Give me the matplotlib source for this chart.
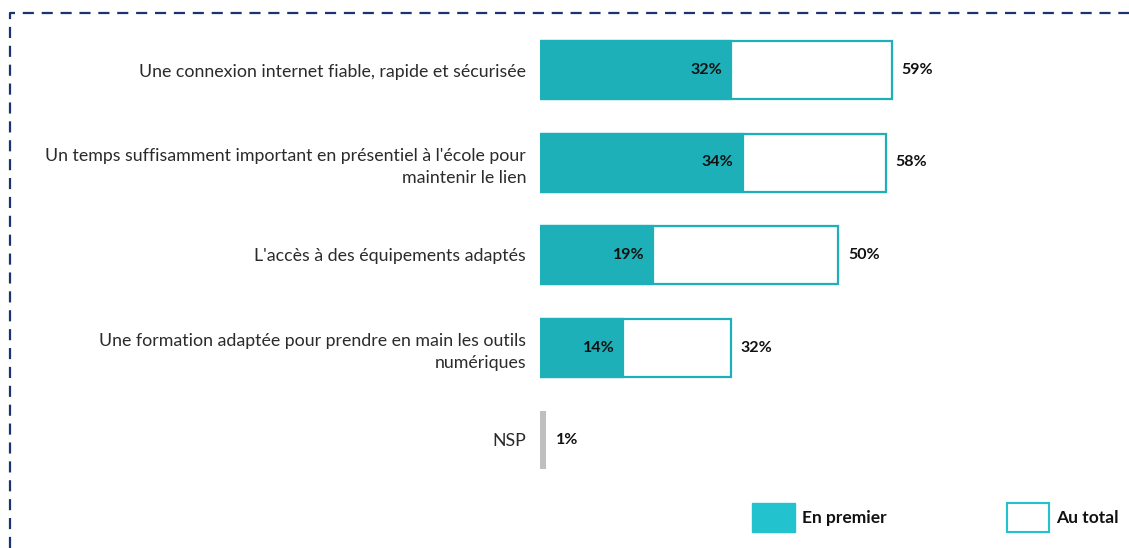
import matplotlib
matplotlib.use("Agg")
import matplotlib.pyplot as plt
from matplotlib.patches import Rectangle
from matplotlib.lines import Line2D

plt.rcParams['font.family'] = ['Lato', 'DejaVu Sans']

categories = [
    "Une connexion internet fiable, rapide et sécurisée",
    "Un temps suffisamment important en présentiel à l'école pour\nmaintenir le lien",
    "L'accès à des équipements adaptés",
    "Une formation adaptée pour prendre en main les outils\nnumériques",
    "NSP",
]
en_premier = [32, 34, 19, 14]
au_total = [59, 58, 50, 32]
nsp_value = 1

TEAL = "#1DB0B8"
TEAL_LEG = "#22C3CE"
GRAY = "#BFBFBF"
NAVY = "#1B3470"

W, H = 1129, 548
fig = plt.figure(figsize=(W / 100, H / 100), dpi=100)

# axes: 0% at x=540px, 5.96 px per %; rows centered at 70..440 px
px_per_pct = 5.96
row_px = 92.5
left = 540
top = 70 - row_px / 2
ax = fig.add_axes([left / W, 1 - (top + 5 * row_px) / H, 100 * px_per_pct / W, 5 * row_px / H])
ax.set_xlim(0, 100)
ax.set_ylim(4.5, -0.5)
for s in ax.spines.values():
    s.set_visible(False)
ax.set_xticks([])

bar_h = 58 / row_px
n = len(en_premier)
ypos = list(range(n))
ax.barh(ypos, au_total, height=bar_h, color="white", edgecolor=TEAL, linewidth=1.6, zorder=2)
ax.barh(ypos, en_premier, height=bar_h, color=TEAL, edgecolor=TEAL, linewidth=1.6, zorder=3)
ax.barh([n], [nsp_value], height=bar_h, color=GRAY, edgecolor="none", zorder=2)

VFS = 11.5
for y, (p, t) in enumerate(zip(en_premier, au_total)):
    ax.text(p - 1.5, y, f"{p}%", ha="right", va="center", fontsize=VFS,
            fontweight="bold", color="#111111", zorder=4)
    ax.text(t + 1.7, y, f"{t}%", ha="left", va="center", fontsize=VFS,
            fontweight="bold", color="#111111", zorder=4)
ax.text(nsp_value + 1.7, n, f"{nsp_value}%", ha="left", va="center", fontsize=VFS,
        fontweight="bold", color="#111111")

ax.set_yticks(range(len(categories)))
ax.set_yticklabels(categories, fontsize=12.8, color="#2b2b2b", linespacing=1.45)
ax.tick_params(axis="y", length=0, pad=10)

# legend
def fx(x):
    return x / W
def fy(y):
    return 1 - y / H

fig.add_artist(Rectangle((fx(752), fy(532)), 43 / W, 29 / H, transform=fig.transFigure,
                         facecolor=TEAL_LEG, edgecolor=TEAL_LEG, linewidth=1))
fig.text(fx(802), fy(518), "En premier", fontsize=12.5, fontweight="bold",
         va="center", ha="left", color="#111111")
fig.add_artist(Rectangle((fx(1007), fy(532)), 42 / W, 29 / H, transform=fig.transFigure,
                         facecolor="white", edgecolor=TEAL_LEG, linewidth=1.5))
fig.text(fx(1056), fy(518), "Au total", fontsize=12.5, fontweight="bold",
         va="center", ha="left", color="#111111")

# dashed frame
fig.add_artist(Line2D([fx(10), fx(10), fx(1129)], [fy(548), fy(13), fy(13)],
                      transform=fig.transFigure, color=NAVY, linewidth=1.6,
                      linestyle=(0, (5, 3.5))))

fig.savefig("out.png", dpi=100)
